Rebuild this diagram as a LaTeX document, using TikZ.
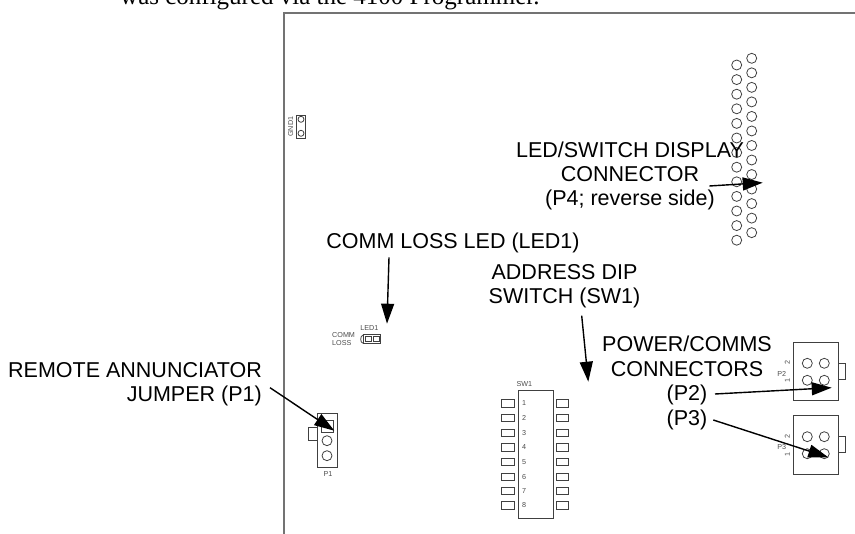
\documentclass[tikz,border=0pt]{standalone}
\usepackage{fontspec}
\setmainfont{Liberation Sans}
\newfontfamily\bodyfont{Liberation Serif}
\usetikzlibrary{arrows.meta}
\begin{document}
\begin{tikzpicture}[x=1pt,y=-1pt,
  board/.style={draw=black!55,line width=1.2pt},
  part/.style={draw=black!75,line width=0.8pt},
  callout/.style={inner sep=0pt,align=center,font=\fontsize{21.5}{24.4}\selectfont},
  tiny/.style={inner sep=0pt,text=black!70,font=\fontsize{7.2}{8}\selectfont},
  pointer/.style={-{Triangle[length=20pt,width=13pt]},line width=1.4pt}]
  \useasboundingbox (0,0) rectangle (855,534);
  \draw[board] (284,534) -- (284,13) -- (855,13);
  \node (intro) [inner sep=0pt,anchor=base west,font=\bodyfont\fontsize{25}{28}\selectfont] at (120,4.5) {was configured via the 4100 Programmer.};

  \draw[part] (296,115) rectangle (305.7,138.3);
  \foreach \y in {119.3,133.3}
    \draw[part] (301,\y) circle (3);
  \node (gndlabel) [tiny,rotate=90] at (290.7,126.7) {GND1};

  \foreach \y in {0,...,12} {
    \draw[part] (736.7,65+14.6*\y) circle (5);
    \draw[part] (751.7,58.3+14.53*\y) circle (5);
  }

  \draw[part] (363.3,334.3) rectangle (380.7,343.7);
  \draw[part] (363.3,335) .. controls (359.8,335.5) and (359.8,343) .. (363.3,343.4);
  \draw[part] (365,336) rectangle (371.5,341.7);
  \draw[part] (373,336) rectangle (379,341.7);
  \node (ledlabel) [tiny] at (369.3,328.3) {LED1};
  \node (commlabel) [tiny,anchor=west] at (332,335) {COMM};
  \node (losslabel) [tiny,anchor=west] at (332,343) {LOSS};

  \draw[part] (317.3,413.3) rectangle (337.3,467.3);
  \draw[part] (321,420) rectangle (333.7,432.3);
  \draw[part] (308.3,427.3) rectangle (317.3,440);
  \foreach \y in {440.7,455.7}
    \draw[part] (327,\y) circle (5);
  \node (ponelabel) [tiny] at (328,474) {P1};

  \draw[part] (518,390.7) rectangle (553,518.3);
  \node (swlabel) [tiny] at (524.3,384.3) {SW1};
  \foreach \n/\y in {1/403.3,2/418,3/432.7,4/447.3,5/462,6/476.7,7/490.7,8/505.3} {
    \draw[part] (501.3,\y-3.7) rectangle (514.3,\y+3.7);
    \draw[part] (556.3,\y-3.7) rectangle (568.7,\y+3.7);
    \node (sw\n) [tiny] at (524,\y) {\n};
  }

  \foreach \name/\y in {P2/342.3,P3/415.7} {
    \draw[part] (793.3,\y) rectangle (838.3,\y+58.5);
    \draw[part] (838.3,\y+21) rectangle (845.7,\y+36.7);
    \foreach \cx in {807.3,824.3}
      \foreach \cy in {21,38}
        \draw[part] (\cx,\y+\cy) circle (5);
    \node (\name label) [tiny] at (781.7,\y+31.5) {\name};
    \node (\name two) [tiny,rotate=90] at (787.3,\y+20.4) {2};
    \node (\name one) [tiny,rotate=90] at (787.3,\y+38.4) {1};
  }

  \node (remote) [callout,align=right,anchor=east] at (262,384.5) {REMOTE ANNUNCIATOR\\JUMPER (P1)};
  \node (comm) [callout] at (453,242.5) {COMM LOSS LED (LED1)};
  \node (address) [callout] at (564.5,286.5) {ADDRESS DIP\\SWITCH (SW1)};
  \node (power) [callout] at (687,383) {POWER/COMMS\\CONNECTORS\\(P2)\\(P3)};
  \node (display) [callout] at (630,176) {LED/SWITCH DISPLAY\\CONNECTOR\\(P4; reverse side)};

  \coordinate (remotetail) at (270,387.7);
  \coordinate (remotetip) at (334.3,430.7);
  \coordinate (commtail) at (389,257.3);
  \coordinate (commtip) at (387,323.7);
  \coordinate (addresstail) at (581.7,315.7);
  \coordinate (addresstip) at (588.3,381.7);
  \coordinate (ptwotail) at (715,394);
  \coordinate (ptwotip) at (831.7,387.7);
  \coordinate (pthreetail) at (713.3,420);
  \coordinate (pthreetip) at (828.3,457.3);
  \coordinate (displaytail) at (709.3,186);
  \coordinate (displaytip) at (762.7,182.7);

  \draw[pointer] (remotetail) -- (remotetip);
  \draw[pointer] (commtail) -- (commtip);
  \draw[pointer] (addresstail) -- (addresstip);
  \draw[pointer] (ptwotail) -- (ptwotip);
  \draw[pointer] (pthreetail) -- (pthreetip);
  \draw[pointer] (displaytail) -- (displaytip);
\end{tikzpicture}
\end{document}
